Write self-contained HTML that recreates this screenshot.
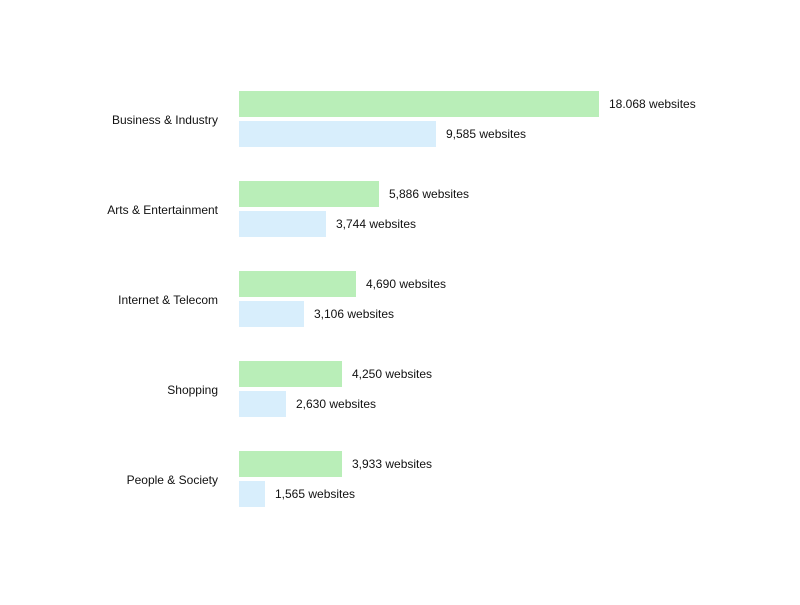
<!DOCTYPE html>
<html><head><meta charset="utf-8"><style>
html,body{margin:0;padding:0;background:#fff;}
svg text{font-family:"Liberation Sans",sans-serif;font-size:12px;fill:#111;}
</style></head><body>
<svg width="800" height="600">
<g id="plot"></g>
</svg>
<script>
const categories = ["Business & Industry","Arts & Entertainment","Internet & Telecom","Shopping","People & Society"];
const labelsA = ["18.068","5,886","4,690","4,250","3,933"];
const labelsB = ["9,585","3,744","3,106","2,630","1,565"];
const lenA = [18068, 7027, 5872, 5170, 5170];
const lenB = [9887, 4366, 3262, 2359, 1305];
const maxV = 18068;
const x0 = 239, xW = 360;
function xs(v){ return xW * v / maxV; }
function yg(i){ return 91 + i * 90; }
const ns = "http://www.w3.org/2000/svg";
const g = document.getElementById("plot");
function mk(t, attrs){ const e = document.createElementNS(ns, t); for (const k in attrs) e.setAttribute(k, attrs[k]); g.appendChild(e); return e; }
categories.forEach((c, i) => {
  const y = yg(i);
  const lab = mk("text", {x: 218, y: y + 33, "text-anchor": "end"});
  lab.textContent = c;
  
  
  const wa = xs(lenA[i]);
  const ra = mk("rect", {x: x0, y: y, width: wa, height: 26, fill: "#b9eeb8"});
  
  
  const ta = mk("text", {x: x0 + wa + 10, y: y + 17});
  ta.textContent = labelsA[i] + " websites";
  
  
  const wb = xs(lenB[i]);
  const rb = mk("rect", {x: x0, y: y + 30, width: wb, height: 26, fill: "#d8eefc"});
  
  
  const tb = mk("text", {x: x0 + wb + 10, y: y + 47});
  tb.textContent = labelsB[i] + " websites";
  
  
});
</script>
</body></html>
